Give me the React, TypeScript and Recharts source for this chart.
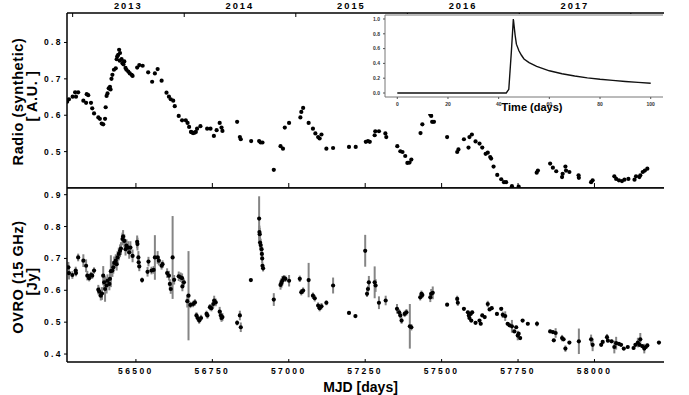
import React from 'react'
import { ScatterChart, Scatter, XAxis, YAxis, ErrorBar, LineChart, Line } from 'recharts'

// synthetic radio light curve (top panel)
const topMjd = [
  56275, 56281, 56293, 56301, 56304, 56311, 56328, 56337, 56339, 56344, 56353, 56357, 56363, 56377, 56382,
  56388, 56393, 56399, 56401, 56404, 56407, 56411, 56415, 56417, 56420, 56423, 56428, 56434, 56437, 56439,
  56442, 56445, 56447, 56448, 56453, 56456, 56459, 56462, 56466, 56469, 56475, 56480, 56486, 56489, 56504,
  56511, 56522, 56540, 56553, 56562, 56571, 56584, 56600, 56608, 56614, 56622, 56627, 56640, 56651, 56663,
  56669, 56674, 56680, 56683, 56687, 56692, 56696, 56700, 56711, 56733, 56744, 56755, 56764, 56774, 56780,
  56783, 56831, 56840, 56843, 56877, 56903, 56908, 56914, 56951, 56973, 56981, 56987, 57001, 57038, 57041,
  57047, 57065, 57079, 57087, 57096, 57101, 57107, 57123, 57145, 57197, 57219, 57252, 57259, 57265, 57281,
  57283, 57295, 57316, 57319, 57355, 57365, 57372, 57381, 57388, 57395, 57401, 57431, 57437, 57463, 57466,
  57469, 57475, 57518, 57551, 57555, 57573, 57588, 57591, 57599, 57611, 57624, 57633, 57644, 57651, 57659,
  57662, 57670, 57682, 57695, 57704, 57711, 57730, 57752, 57811, 57815, 57855, 57864, 57875, 57894, 57896,
  57905, 57907, 57918, 57948, 57949, 57989, 57994, 58065, 58071, 58080, 58090, 58098, 58111, 58131, 58136,
  58147, 58150, 58158, 58165, 58173,
]
const topVal = [
  0.637, 0.644, 0.651, 0.663, 0.651, 0.663, 0.64, 0.634, 0.658, 0.655, 0.634, 0.619, 0.605, 0.594, 0.59,
  0.577, 0.575, 0.59, 0.622, 0.653, 0.66, 0.674, 0.678, 0.671, 0.7, 0.711, 0.725, 0.729, 0.754, 0.762,
  0.766, 0.78, 0.75, 0.771, 0.754, 0.743, 0.74, 0.748, 0.73, 0.725, 0.72, 0.715, 0.711, 0.708, 0.731,
  0.738, 0.736, 0.718, 0.692, 0.715, 0.727, 0.695, 0.662, 0.651, 0.644, 0.64, 0.625, 0.598, 0.586, 0.586,
  0.579, 0.568, 0.554, 0.553, 0.551, 0.552, 0.554, 0.563, 0.57, 0.563, 0.563, 0.543, 0.559, 0.579, 0.566,
  0.557, 0.582, 0.54, 0.534, 0.529, 0.529, 0.525, 0.525, 0.45, 0.515, 0.508, 0.566, 0.579, 0.594, 0.609,
  0.62, 0.579, 0.563, 0.55, 0.54, 0.536, 0.547, 0.508, 0.51, 0.513, 0.513, 0.527, 0.529, 0.527, 0.545,
  0.556, 0.556, 0.55, 0.54, 0.515, 0.501, 0.499, 0.488, 0.469, 0.47, 0.478, 0.551, 0.575, 0.602, 0.598,
  0.582, 0.582, 0.54, 0.499, 0.506, 0.534, 0.511, 0.54, 0.547, 0.528, 0.522, 0.511, 0.494, 0.497, 0.485,
  0.481, 0.459, 0.436, 0.424, 0.416, 0.416, 0.405, 0.404, 0.442, 0.448, 0.467, 0.456, 0.446, 0.43, 0.439,
  0.459, 0.448, 0.444, 0.435, 0.428, 0.416, 0.421, 0.432, 0.425, 0.421, 0.419, 0.423, 0.425, 0.423, 0.432,
  0.43, 0.435, 0.444, 0.448, 0.453,
]

// OVRO 15 GHz (bottom panel)
const ovroMjd = [
  56279, 56281, 56292, 56303, 56304, 56311, 56328, 56337, 56341, 56347, 56353, 56357, 56363, 56377, 56380,
  56385, 56389, 56393, 56396, 56399, 56404, 56407, 56413, 56415, 56418, 56423, 56426, 56429, 56434, 56437,
  56440, 56444, 56448, 56451, 56456, 56458, 56462, 56466, 56469, 56475, 56478, 56482, 56489, 56504, 56505,
  56508, 56509, 56511, 56520, 56538, 56541, 56551, 56558, 56562, 56571, 56575, 56584, 56587, 56602, 56608,
  56611, 56614, 56620, 56625, 56640, 56646, 56651, 56652, 56657, 56668, 56672, 56678, 56687, 56693, 56698,
  56702, 56707, 56713, 56731, 56734, 56742, 56747, 56753, 56756, 56761, 56774, 56778, 56780, 56783, 56831,
  56840, 56843, 56876, 56903, 56904, 56905, 56906, 56908, 56911, 56912, 56913, 56914, 56916, 56951, 56973,
  56976, 56979, 56984, 56989, 57001, 57036, 57041, 57047, 57065, 57079, 57085, 57096, 57101, 57107, 57123,
  57145, 57197, 57218, 57250, 57256, 57259, 57262, 57281, 57284, 57295, 57317, 57354, 57361, 57365, 57369,
  57379, 57385, 57396, 57401, 57430, 57434, 57437, 57463, 57466, 57471, 57518, 57551, 57553, 57573, 57586,
  57589, 57591, 57595, 57597, 57600, 57611, 57624, 57628, 57633, 57641, 57651, 57657, 57664, 57681, 57695,
  57700, 57708, 57716, 57722, 57730, 57738, 57744, 57749, 57752, 57757, 57765, 57782, 57812, 57855, 57864,
  57867, 57873, 57894, 57899, 57905, 57918, 57949, 57989, 57994, 58022, 58027, 58041, 58044, 58056, 58065,
  58071, 58080, 58087, 58096, 58109, 58128, 58134, 58142, 58147, 58150, 58156, 58163, 58168, 58173, 58211,
]
const ovroFlux = [
  0.672, 0.654, 0.648, 0.662, 0.654, 0.703, 0.693, 0.677, 0.646, 0.638, 0.648, 0.646, 0.662, 0.602, 0.596,
  0.583, 0.59, 0.646, 0.625, 0.604, 0.615, 0.63, 0.62, 0.636, 0.66, 0.662, 0.672, 0.686, 0.693, 0.682,
  0.703, 0.714, 0.724, 0.731, 0.761, 0.769, 0.755, 0.729, 0.74, 0.734, 0.719, 0.734, 0.708, 0.752, 0.745,
  0.703, 0.688, 0.675, 0.632, 0.658, 0.69, 0.662, 0.664, 0.703, 0.703, 0.693, 0.677, 0.682, 0.654, 0.646,
  0.62, 0.604, 0.703, 0.633, 0.644, 0.641, 0.638, 0.612, 0.625, 0.566, 0.583, 0.554, 0.557, 0.562, 0.521,
  0.513, 0.505, 0.513, 0.526, 0.521, 0.547, 0.544, 0.557, 0.568, 0.562, 0.533, 0.521, 0.513, 0.516, 0.498,
  0.521, 0.484, 0.632, 0.825, 0.783, 0.776, 0.75, 0.742, 0.729, 0.714, 0.7, 0.677, 0.669, 0.571, 0.617,
  0.623, 0.63, 0.638, 0.636, 0.63, 0.636, 0.594, 0.599, 0.632, 0.583, 0.575, 0.552, 0.544, 0.55, 0.561,
  0.615, 0.529, 0.519, 0.724, 0.589, 0.604, 0.625, 0.625, 0.615, 0.561, 0.568, 0.542, 0.531, 0.521, 0.505,
  0.526, 0.531, 0.487, 0.484, 0.578, 0.589, 0.585, 0.578, 0.589, 0.592, 0.555, 0.573, 0.561, 0.542, 0.531,
  0.521, 0.513, 0.526, 0.505, 0.531, 0.498, 0.505, 0.495, 0.521, 0.516, 0.557, 0.54, 0.544, 0.526, 0.542,
  0.523, 0.519, 0.495, 0.49, 0.487, 0.471, 0.484, 0.458, 0.464, 0.45, 0.505, 0.495, 0.495, 0.471, 0.469,
  0.443, 0.466, 0.45, 0.446, 0.417, 0.436, 0.44, 0.446, 0.429, 0.429, 0.438, 0.453, 0.442, 0.44, 0.422,
  0.434, 0.432, 0.429, 0.417, 0.422, 0.419, 0.429, 0.436, 0.429, 0.446, 0.425, 0.417, 0.422, 0.427, 0.436,
]
const ovroErr = [
  0.017, 0.02, 0.012, 0.012, 0.01, 0.012, 0.02, 0.02, 0.015, 0.01, 0.01, 0.01, 0.01, 0.015, 0.015,
  0.015, 0.02, 0.03, 0.02, 0.04, 0.025, 0.02, 0.02, 0.02, 0.05, 0.02, 0.02, 0.02, 0.02, 0.02,
  0.02, 0.02, 0.02, 0.02, 0.02, 0.02, 0.02, 0.02, 0.02, 0.02, 0.02, 0.02, 0.02, 0.02, 0.02,
  0.02, 0.015, 0.015, 0.008, 0.015, 0.015, 0.012, 0.012, 0.07, 0.02, 0.015, 0.012, 0.012, 0.015, 0.015,
  0.015, 0.015, 0.13, 0.015, 0.015, 0.015, 0.015, 0.015, 0.01, 0.02, 0.14, 0.01, 0.01, 0.01, 0.01,
  0.01, 0.01, 0.01, 0.01, 0.01, 0.01, 0.01, 0.012, 0.015, 0.012, 0.015, 0.015, 0.012, 0.012, 0.008,
  0.015, 0.015, 0.005, 0.07, 0.02, 0.02, 0.02, 0.02, 0.015, 0.015, 0.015, 0.01, 0.01, 0.02, 0.015,
  0.015, 0.015, 0.01, 0.01, 0.018, 0.01, 0.01, 0.01, 0.054, 0.01, 0.01, 0.01, 0.01, 0.01, 0.008,
  0.025, 0.004, 0.004, 0.05, 0.01, 0.01, 0.02, 0.05, 0.02, 0.02, 0.015, 0.015, 0.01, 0.01, 0.01,
  0.01, 0.01, 0.07, 0.01, 0.01, 0.01, 0.01, 0.015, 0.015, 0.02, 0.005, 0.01, 0.01, 0.005, 0.005,
  0.005, 0.005, 0.005, 0.005, 0.005, 0.005, 0.005, 0.005, 0.005, 0.005, 0.01, 0.005, 0.005, 0.005, 0.005,
  0.01, 0.015, 0.005, 0.005, 0.02, 0.005, 0.005, 0.015, 0.005, 0.005, 0.005, 0.005, 0.008, 0.005, 0.005,
  0.005, 0.015, 0.01, 0.005, 0.01, 0.005, 0.04, 0.015, 0.02, 0.005, 0.005, 0.01, 0.005, 0.005, 0.02,
  0.02, 0.005, 0.005, 0.005, 0.005, 0.005, 0.005, 0.015, 0.005, 0.02, 0.005, 0.015, 0.005, 0.005, 0.005,
]

// inset: flare template
const flareT = [0, 10, 20, 30, 40, 43, 44, 45, 45.8, 46.5, 47, 48, 49, 50, 52, 55, 60, 65, 70, 75, 80, 85, 90, 95, 100]
const flareV = [0, 0, 0, 0, 0, 0, 0.05, 0.55, 1.0, 0.78, 0.66, 0.57, 0.51, 0.46, 0.41, 0.36, 0.3, 0.26, 0.23, 0.205, 0.185, 0.17, 0.155, 0.143, 0.132]

const mjdTicks = [56500, 56750, 57000, 57250, 57500, 57750, 58000]
const yearStarts = [56293, 56658, 57023, 57388, 57754, 58119]
const yearMids = [56475, 56840, 57205, 57570, 57936]
const yearLabels = ['2013', '2014', '2015', '2016', '2017']
const topTicks = [0.5, 0.6, 0.7, 0.8]
const bottomTicks = [0.4, 0.5, 0.6, 0.7, 0.8, 0.9]

const MJD_DOMAIN: [number, number] = [56274.5, 58227.5]
const FONT = '"Liberation Sans", Arial, Helvetica, sans-serif'

const topData = topMjd.map((x, i) => ({ x, y: topVal[i] }))
const ovroData = ovroMjd.map((x, i) => ({ x, y: ovroFlux[i], err: ovroErr[i] }))
const flareData = flareT.map((t, i) => ({ t, v: flareV[i] }))

const tickStyle = { fontSize: 8.5, fontWeight: 'bold', fill: '#000', letterSpacing: 2.4 }
const frame = { stroke: '#000', strokeWidth: 1.5 }
const insetFrame = { stroke: '#777', strokeWidth: 1 }

const dot = (props: any) => <circle cx={props.cx} cy={props.cy} r={2.1} fill="#000" />
const none = () => <g />

export default function App() {
  return (
    <div style={{ position: 'fixed', left: 0, top: 0, width: 689, height: 395, background: '#fff', fontFamily: FONT, overflow: 'hidden' }}>
      <div style={{ position: 'absolute', left: 0, top: 0 }}>
        <ScatterChart width={689} height={188} margin={{ top: 0, right: 25, bottom: 0, left: 0 }}>
          <XAxis
            xAxisId="yr" orientation="top" type="number" dataKey="x" domain={MJD_DOMAIN} allowDataOverflow
            ticks={yearMids} tickFormatter={(v) => yearLabels[yearMids.indexOf(v)] ?? ''}
            tickLine={false} tickSize={0} tickMargin={4} height={13} axisLine={frame}
            tick={{ ...tickStyle, fontSize: 9.3, letterSpacing: 2 }}
          />
          <XAxis
            xAxisId="yb" orientation="top" mirror type="number" dataKey="x" domain={MJD_DOMAIN} allowDataOverflow
            ticks={yearStarts} tickSize={4} tickFormatter={() => ''} axisLine={false} tickLine={{ stroke: '#000' }}
          />
          <XAxis
            xAxisId="m" orientation="bottom" mirror type="number" dataKey="x" domain={MJD_DOMAIN} allowDataOverflow
            ticks={mjdTicks} tickSize={5} tickFormatter={() => ''} axisLine={frame} tickLine={{ stroke: '#000' }}
          />
          <YAxis
            yAxisId="l" type="number" dataKey="y" domain={[0.4, 0.881]} allowDataOverflow ticks={topTicks}
            tickFormatter={(v) => v.toFixed(1)} width={67} tickSize={3} tickMargin={1}
            axisLine={frame} tickLine={{ stroke: '#000' }} tick={tickStyle}
          />
          <YAxis yAxisId="r" orientation="right" type="number" dataKey="y" domain={[0, 1]} allowDataOverflow width={0} tick={false} axisLine={frame} />
          <Scatter data={topData} xAxisId="yr" yAxisId="r" shape={none} isAnimationActive={false} />
          <Scatter data={topData} xAxisId="yb" yAxisId="r" shape={none} isAnimationActive={false} />
          <Scatter data={topData} xAxisId="m" yAxisId="l" shape={dot} isAnimationActive={false} />
        </ScatterChart>
      </div>

      <div style={{ position: 'absolute', left: 0, top: 186 }}>
        <ScatterChart width={689} height={209} margin={{ top: 2, right: 25, bottom: 0, left: 0 }}>
          <XAxis xAxisId="t" orientation="top" mirror type="number" dataKey="x" domain={MJD_DOMAIN} allowDataOverflow tick={false} axisLine={frame} />
          <XAxis
            xAxisId="m" orientation="bottom" type="number" dataKey="x" domain={MJD_DOMAIN} allowDataOverflow
            ticks={mjdTicks} tickSize={0} tickMargin={6} height={33} axisLine={frame} tickLine={false} tick={tickStyle}
          />
          <XAxis
            xAxisId="mi" orientation="bottom" mirror type="number" dataKey="x" domain={MJD_DOMAIN} allowDataOverflow
            ticks={mjdTicks} tickSize={3} tickFormatter={() => ''} axisLine={false} tickLine={{ stroke: '#000' }}
          />
          <YAxis
            yAxisId="l" type="number" dataKey="y" domain={[0.375, 0.921]} allowDataOverflow ticks={bottomTicks}
            tickFormatter={(v) => v.toFixed(1)} width={67} tickSize={3} tickMargin={1}
            axisLine={frame} tickLine={{ stroke: '#000' }} tick={tickStyle}
          />
          <YAxis yAxisId="r" orientation="right" type="number" dataKey="y" domain={[0, 1]} allowDataOverflow width={0} tick={false} axisLine={frame} />
          <Scatter data={ovroData} xAxisId="t" yAxisId="r" shape={none} isAnimationActive={false} />
          <Scatter data={ovroData} xAxisId="mi" yAxisId="r" shape={none} isAnimationActive={false} />
          <Scatter data={ovroData} xAxisId="m" yAxisId="l" shape={dot} isAnimationActive={false}>
            <ErrorBar dataKey="err" direction="y" width={0} stroke="#858585" strokeWidth={2} />
          </Scatter>
        </ScatterChart>
      </div>

      {/* inset with the flare template */}
      <div style={{ position: 'absolute', left: 360, top: 14, width: 305, height: 100, background: '#fff' }}>
        <LineChart width={305} height={95} data={flareData} margin={{ top: 1, right: 2, bottom: 0, left: 0 }}>
          <XAxis
            dataKey="t" type="number" domain={[-4.85, 104.85]} allowDataOverflow ticks={[0, 20, 40, 60, 80, 100]}
            height={12} tickSize={2} tickMargin={3} axisLine={insetFrame} tickLine={{ stroke: '#555' }}
            tick={{ fontSize: 5, fill: '#333', fontWeight: 'bold' }}
          />
          <XAxis xAxisId="top" orientation="top" mirror type="number" dataKey="t" domain={[-4.85, 104.85]} allowDataOverflow tick={false} axisLine={insetFrame} />
          <YAxis
            type="number" domain={[-0.054, 1.054]} allowDataOverflow ticks={[0, 0.2, 0.4, 0.6, 0.8, 1.0]}
            tickFormatter={(v) => v.toFixed(1)} width={25} tickSize={2} tickMargin={3}
            axisLine={insetFrame} tickLine={{ stroke: '#555' }} tick={{ fontSize: 5, fill: '#333', fontWeight: 'bold' }}
          />
          <YAxis yAxisId="r" orientation="right" type="number" domain={[-0.054, 1.054]} allowDataOverflow width={0} tick={false} axisLine={insetFrame} />
          <Line dataKey="v" type="linear" stroke="#111" strokeWidth={1.4} dot={false} isAnimationActive={false} />
        </LineChart>
      </div>

      <svg width={689} height={395} style={{ position: 'absolute', left: 0, top: 0, pointerEvents: 'none' }}>
        <g fontFamily={FONT} fontWeight="bold" fill="#000">
          <text transform="translate(23,101.5) rotate(-90)" textAnchor="middle" fontSize={14.5} letterSpacing={0.6}>Radio (synthetic)</text>
          <text transform="translate(36.5,96) rotate(-90)" textAnchor="middle" fontSize={14.5} letterSpacing={0.6}>[ A.U. ]</text>
          <text transform="translate(23,277) rotate(-90)" textAnchor="middle" fontSize={14.5} letterSpacing={0.6}>OVRO (15 GHz)</text>
          <text transform="translate(36.5,281.5) rotate(-90)" textAnchor="middle" fontSize={14.5} letterSpacing={0.6}>[Jy]</text>
          <text x={360.5} y={392} textAnchor="middle" fontSize={14}>MJD [days]</text>
          <text x={532} y={110.5} textAnchor="middle" fontSize={11}>Time (days)</text>
        </g>
      </svg>
    </div>
  )
}
